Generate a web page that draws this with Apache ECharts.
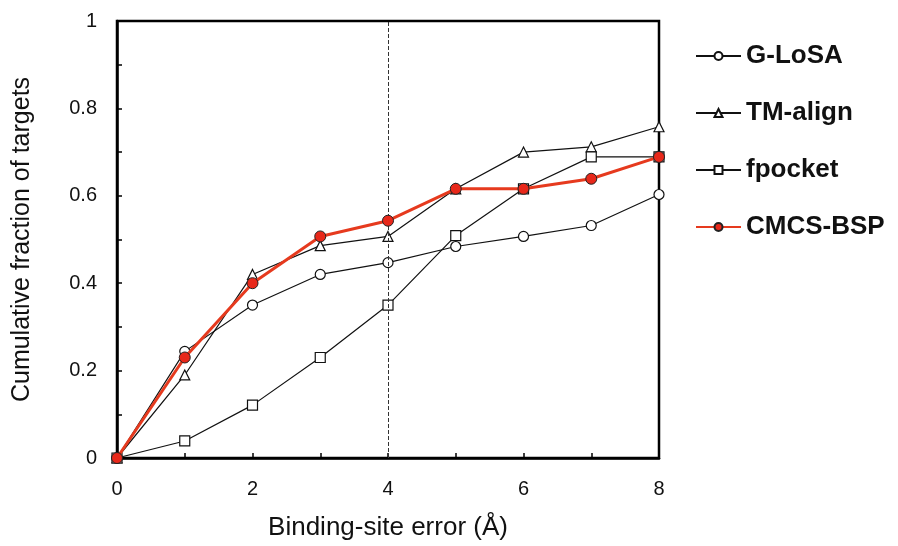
<!DOCTYPE html>
<html>
<head>
<meta charset="utf-8" />
<title>binding site error</title>
<script src="https://cdn.jsdelivr.net/npm/echarts@6/dist/echarts.min.js"></script>
</head>
<body style="margin:0">
<div id="chart" style="width:898px;height:546px;"></div>
<script type="text/javascript">
var errors = [0, 1, 2, 3, 4, 5, 6, 7, 8];
var glosa = [0, 0.244, 0.35, 0.42, 0.447, 0.484, 0.507, 0.532, 0.603];
var tmalign = [0, 0.19, 0.42, 0.486, 0.507, 0.616, 0.70, 0.712, 0.758];
var fpocket = [0, 0.039, 0.121, 0.23, 0.35, 0.509, 0.616, 0.689, 0.689];
var cmcs = [0, 0.23, 0.40, 0.507, 0.543, 0.616, 0.616, 0.639, 0.689];
var cutoff = 4;

function pairs(ys) {
	return ys.map(function (y, i) { return [errors[i], y]; });
}

var font = 'Liberation Sans, Arial, sans-serif';
var myChart = echarts.init(document.getElementById('chart'));

function blackSeries(name, data, symbol, size) {
	return {
		name: name,
		type: 'line',
		data: pairs(data),
		symbol: symbol,
		symbolSize: size,
		showSymbol: true,
		clip: false,
		lineStyle: {color: '#111', width: 1.2},
		itemStyle: {color: '#fff', borderColor: '#111', borderWidth: 1.2},
		emphasis: {disabled: true}
	};
}

var option = {
	backgroundColor: '#fff',
	animation: false,
	grid: {left: 117, right: 239, top: 21, bottom: 86, show: true, borderColor: '#000', borderWidth: 2.5},
	legend: {
		orient: 'vertical',
		left: 690,
		top: 38,
		itemGap: 31,
		itemWidth: 45,
		itemHeight: 10,
		textStyle: {fontFamily: font, fontSize: 26, fontWeight: 'bold', color: '#111'},
		data: ['G-LoSA', 'TM-align', 'fpocket', 'CMCS-BSP']
	},
	xAxis: {
		type: 'value',
		min: 0,
		max: 8,
		interval: 1,
		name: 'Binding-site error (Å)',
		nameLocation: 'middle',
		nameGap: 57,
		nameTextStyle: {fontFamily: font, fontSize: 26, color: '#111'},
		axisLine: {lineStyle: {color: '#000', width: 2.5}},
		axisTick: {inside: true, length: 5, lineStyle: {color: '#000', width: 1.5}},
		axisLabel: {
			fontFamily: font, fontSize: 20, color: '#111', margin: 21,
			formatter: function (v) { return v % 2 === 0 ? String(v) : ''; }
		},
		splitLine: {show: false}
	},
	yAxis: {
		type: 'value',
		min: 0,
		max: 1,
		interval: 0.1,
		name: 'Cumulative fraction of targets',
		nameLocation: 'middle',
		nameGap: 82,
		nameTextStyle: {fontFamily: font, fontSize: 25, color: '#111'},
		axisLine: {lineStyle: {color: '#000', width: 2.5}},
		axisTick: {inside: true, length: 5, lineStyle: {color: '#000', width: 1.5}},
		axisLabel: {
			fontFamily: font, fontSize: 20, color: '#111', margin: 20,
			formatter: function (v) {
				var k = Math.round(v * 10);
				return k % 2 === 0 ? String(k / 10) : '';
			}
		},
		splitLine: {show: false}
	},
	series: [
		blackSeries('G-LoSA', glosa, 'circle', 10),
		blackSeries('TM-align', tmalign, 'triangle', 10),
		blackSeries('fpocket', fpocket, 'rect', 10),
		{
			name: 'CMCS-BSP',
			type: 'line',
			data: pairs(cmcs),
			symbol: 'circle',
			symbolSize: 11,
			clip: false,
			lineStyle: {color: '#e63a1e', width: 3},
			itemStyle: {color: '#e8281a', borderColor: '#222', borderWidth: 1},
			emphasis: {disabled: true},
			markLine: {
				silent: true,
				symbol: 'none',
				label: {show: false},
				lineStyle: {color: '#333', type: 'dashed', width: 1},
				data: [{xAxis: cutoff}]
			},
			z: 5
		}
	]
};
myChart.setOption(option);
</script>
</body>
</html>
